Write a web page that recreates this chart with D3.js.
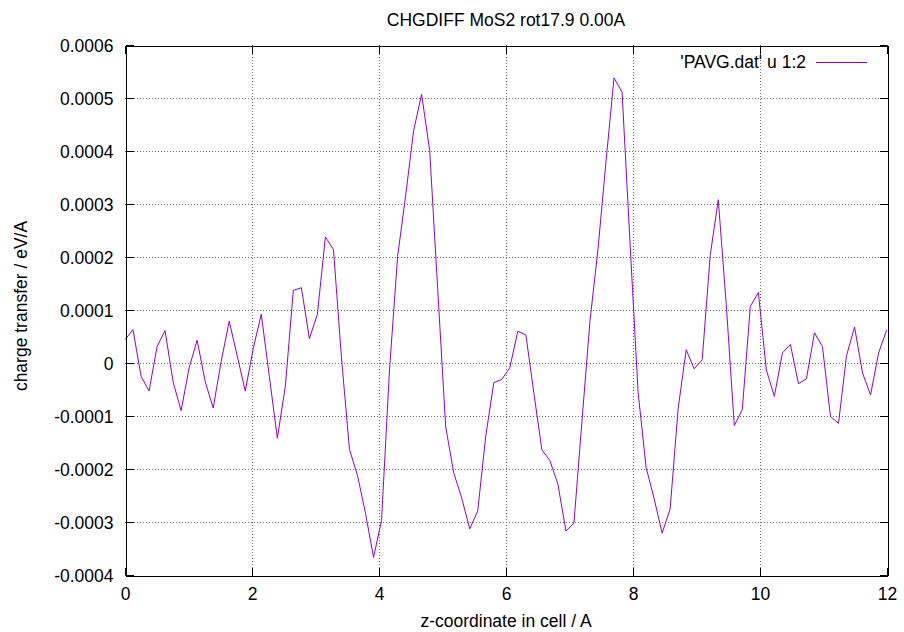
<!DOCTYPE html>
<html>
<head>
<meta charset="utf-8">
<script src="https://cdn.jsdelivr.net/npm/d3@7"></script>
<style>
  body { margin: 0; background: #fff; }
  svg text { font-family: "Liberation Sans", Arial, sans-serif; fill: #000; }
</style>
</head>
<body>
<svg id="chart" width="904" height="632"></svg>
<script>
// z positions in the cell (A) and the averaged charge difference
var zCoord = [0.000, 0.126, 0.253, 0.379, 0.505, 0.631, 0.758, 0.884, 1.010, 1.136,
  1.263, 1.389, 1.515, 1.641, 1.768, 1.894, 2.020, 2.146, 2.273, 2.399,
  2.525, 2.651, 2.778, 2.904, 3.030, 3.156, 3.283, 3.409, 3.535, 3.661,
  3.788, 3.914, 4.040, 4.166, 4.293, 4.419, 4.545, 4.671, 4.798, 4.924,
  5.050, 5.176, 5.303, 5.429, 5.555, 5.681, 5.808, 5.934, 6.060, 6.186,
  6.313, 6.439, 6.565, 6.691, 6.818, 6.944, 7.070, 7.196, 7.323, 7.449,
  7.575, 7.701, 7.828, 7.954, 8.080, 8.206, 8.333, 8.459, 8.585, 8.711,
  8.838, 8.964, 9.090, 9.216, 9.343, 9.469, 9.595, 9.721, 9.848, 9.974,
  10.100, 10.226, 10.353, 10.479, 10.605, 10.731, 10.858, 10.984, 11.110, 11.236,
  11.363, 11.489, 11.615, 11.741, 11.868, 11.994];

var charge = [0.0000440, 0.0000630, -0.0000250, -0.0000530, 0.0000310, 0.0000610, -0.0000360, -0.0000900, -0.0000090, 0.0000430,
  -0.0000350, -0.0000850, 0.0000030, 0.0000790, 0.0000130, -0.0000530, 0.0000280, 0.0000920, -0.0000250, -0.0001420,
  -0.0000440, 0.0001370, 0.0001420, 0.0000460, 0.0000920, 0.0002380, 0.0002140, 0.0000100, -0.0001630, -0.0002120,
  -0.0002840, -0.0003670, -0.0002970, -0.0000120, 0.0002010, 0.0003150, 0.0004380, 0.0005070, 0.0004010, 0.0001400,
  -0.0001200, -0.0002070, -0.0002550, -0.0003130, -0.0002790, -0.0001380, -0.0000370, -0.0000310, -0.0000090, 0.0000600,
  0.0000530, -0.0000570, -0.0001640, -0.0001840, -0.0002290, -0.0003170, -0.0003020, -0.0001100, 0.0000800, 0.0002150,
  0.0003800, 0.0005380, 0.0005110, 0.0002250, -0.0000550, -0.0001970, -0.0002560, -0.0003210, -0.0002750, -0.0000860,
  0.0000250, -0.0000110, 0.0000060, 0.0002030, 0.0003080, 0.0001100, -0.0001180, -0.0000880, 0.0001070, 0.0001330,
  -0.0000130, -0.0000630, 0.0000190, 0.0000350, -0.0000390, -0.0000300, 0.0000570, 0.0000310, -0.0001010, -0.0001140,
  0.0000140, 0.0000680, -0.0000190, -0.0000600, 0.0000190, 0.0000620];

var xTicks = [0, 2, 4, 6, 8, 10, 12];
var yTicks = [-0.0004, -0.0003, -0.0002, -0.0001, 0, 0.0001, 0.0002, 0.0003, 0.0004, 0.0005, 0.0006];
var yTickLabels = ["-0.0004", "-0.0003", "-0.0002", "-0.0001", "0", "0.0001", "0.0002", "0.0003", "0.0004", "0.0005", "0.0006"];

var chartTitle = "CHGDIFF MoS2 rot17.9 0.00A";
var xLabel = "z-coordinate in cell / A";
var yLabel = "charge transfer / eV/A";
var seriesName = "'PAVG.dat' u 1:2";

var svg = d3.select("#chart");
var plotL = 125, plotR = 887, plotT = 45, plotB = 575;
var fontSize = 17.5;

var x = d3.scaleLinear().domain([0, 12]).range([plotL, plotR]);
var y = d3.scaleLinear().domain([-0.0004, 0.0006]).range([plotB, plotT]);

// dotted grid
var grid = svg.append("g").attr("stroke", "#6e6e6e").attr("stroke-width", 1)
  .attr("stroke-dasharray", "1,2").attr("shape-rendering", "crispEdges");
xTicks.slice(1, -1).forEach(function(t) {
  grid.append("line").attr("x1", Math.round(x(t)) + 0.5).attr("x2", Math.round(x(t)) + 0.5)
    .attr("y1", plotT).attr("y2", plotB);
});
yTicks.slice(1, -1).forEach(function(t) {
  grid.append("line").attr("y1", Math.round(y(t)) + 0.5).attr("y2", Math.round(y(t)) + 0.5)
    .attr("x1", plotL).attr("x2", plotR);
});

// the data line, clipped to the plot box
svg.append("clipPath").attr("id", "clip").append("rect")
  .attr("x", plotL).attr("y", plotT).attr("width", plotR - plotL).attr("height", plotB - plotT);

var pts = zCoord.map(function(z, i) { return [z, charge[i]]; });
var line = d3.line().x(function(d) { return x(d[0]); }).y(function(d) { return y(d[1]); });
svg.append("path").datum(pts).attr("clip-path", "url(#clip)")
  .attr("d", line).attr("fill", "none").attr("stroke", "#9400d3").attr("stroke-width", 1);

// axes, with ticks pointing in and mirrored on top / right
var axB = svg.append("g").attr("transform", "translate(0," + (plotB + 0.5) + ")")
  .call(d3.axisBottom(x).tickValues(xTicks).tickSize(-8).tickPadding(14).tickSizeOuter(0));
var axT = svg.append("g").attr("transform", "translate(0," + (plotT + 0.5) + ")")
  .call(d3.axisTop(x).tickValues(xTicks).tickSize(-8).tickFormat("").tickSizeOuter(0));
var axL = svg.append("g").attr("transform", "translate(" + (plotL + 0.5) + ",0)")
  .call(d3.axisLeft(y).tickValues(yTicks).tickSize(-8).tickPadding(12).tickSizeOuter(0)
    .tickFormat(function(d, i) { return yTickLabels[i]; }));
var axR = svg.append("g").attr("transform", "translate(" + (plotR + 0.5) + ",0)")
  .call(d3.axisRight(y).tickValues(yTicks).tickSize(-8).tickFormat("").tickSizeOuter(0));

[axB, axT, axL, axR].forEach(function(a) {
  a.selectAll(".domain").attr("stroke", "#000").attr("shape-rendering", "crispEdges");
  a.selectAll(".tick line").attr("stroke", "#000").attr("shape-rendering", "crispEdges");
  a.selectAll("text").attr("font-size", fontSize).attr("font-family", null);
});
axB.selectAll("text").attr("dy", null).attr("y", 24);
axL.selectAll("text").attr("dy", "0.35em");

// titles
svg.append("text").attr("x", (plotL + plotR) / 2).attr("y", 26)
  .attr("text-anchor", "middle").attr("font-size", fontSize).text(chartTitle);
svg.append("text").attr("x", (plotL + plotR) / 2).attr("y", 627)
  .attr("text-anchor", "middle").attr("font-size", fontSize).text(xLabel);
svg.append("text").attr("transform", "translate(27,306) rotate(-90)")
  .attr("text-anchor", "middle").attr("font-size", fontSize).text(yLabel);

// key
svg.append("text").attr("x", 806).attr("y", 68).attr("text-anchor", "end")
  .attr("font-size", fontSize).text(seriesName);
svg.append("line").attr("x1", 816).attr("x2", 867).attr("y1", 62.5).attr("y2", 62.5)
  .attr("stroke", "#9400d3").attr("stroke-width", 1);
</script>
</body>
</html>
